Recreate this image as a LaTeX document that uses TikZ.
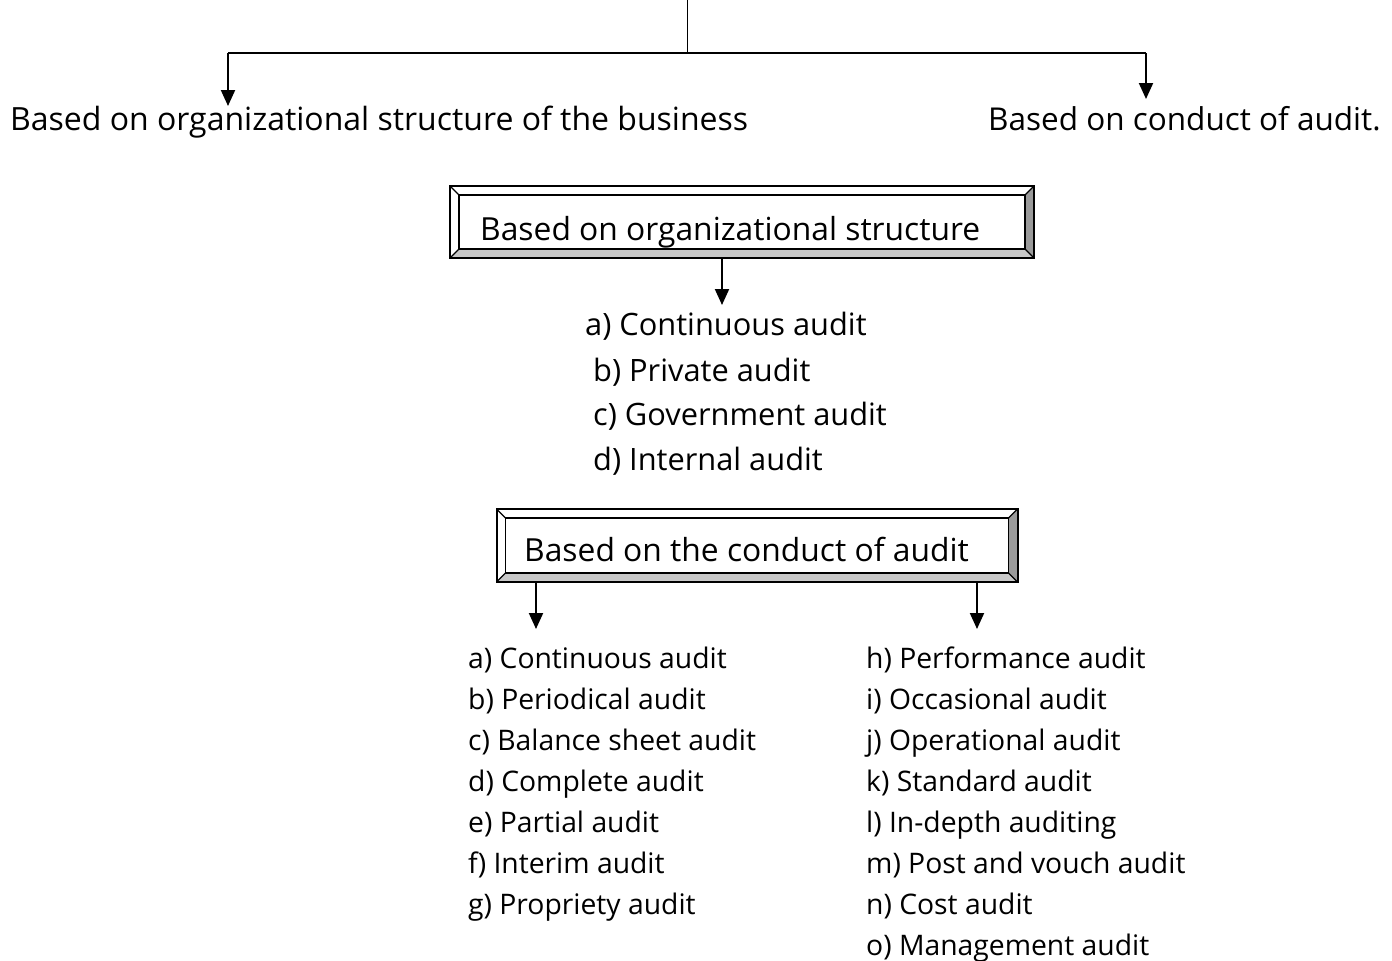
\documentclass[tikz,border=0pt]{standalone}
\usepackage{fontspec}
\setmainfont{Open Sans}
\usetikzlibrary{arrows.meta,calc}
\definecolor{bevbot}{HTML}{C8C8C8}
\definecolor{bevright}{HTML}{9A9A9A}
\tikzset{
  bigtxt/.style={inner sep=0pt,anchor=base west,font=\fontsize{32}{38}\selectfont},
  righttxt/.style={inner sep=0pt,anchor=base west,font=\fontsize{31.5}{38}\selectfont},
  boxtxt/.style={inner sep=0pt,anchor=base west,font=\fontsize{31.8}{38}\selectfont},
  itemA/.style={inner sep=0pt,anchor=base west,font=\fontsize{30.8}{36}\selectfont},
  itemB/.style={inner sep=0pt,anchor=base west,font=\fontsize{28.3}{34}\selectfont},
  conn/.style={line width=2pt,-{Triangle[length=16pt,width=14pt]}},
  bar/.style={line width=2pt},
  frame/.style={draw=none,fill=none,inner sep=0pt,outer sep=0pt}
}
% bevel drawing: #1 node name, #2 bevel size
\newcommand{\bevelframe}[2]{%
  \coordinate (#1-o1) at (#1.north west);
  \coordinate (#1-o2) at (#1.north east);
  \coordinate (#1-o3) at (#1.south east);
  \coordinate (#1-o4) at (#1.south west);
  \coordinate (#1-i1) at ($(#1.north west)+(#2,#2)$);
  \coordinate (#1-i2) at ($(#1.north east)+(-#2,#2)$);
  \coordinate (#1-i3) at ($(#1.south east)+(-#2,-#2)$);
  \coordinate (#1-i4) at ($(#1.south west)+(#2,-#2)$);
  \fill[white] (#1-o1) -- (#1-o2) -- (#1-i2) -- (#1-i1) -- cycle;
  \fill[white] (#1-o1) -- (#1-i1) -- (#1-i4) -- (#1-o4) -- cycle;
  \fill[bevbot] (#1-o4) -- (#1-i4) -- (#1-i3) -- (#1-o3) -- cycle;
  \fill[bevright] (#1-o2) -- (#1-o3) -- (#1-i3) -- (#1-i2) -- cycle;
  \draw[line width=1.3pt] (#1-i1) rectangle (#1-i3);
  \draw[line width=1.3pt] (#1-o1) -- (#1-i1) (#1-o2) -- (#1-i2) (#1-o3) -- (#1-i3) (#1-o4) -- (#1-i4);
  \draw[line width=2pt] (#1-o1) rectangle (#1-o3);
}
\begin{document}
\begin{tikzpicture}[x=1pt,y=-1pt]
\useasboundingbox (0,0) rectangle (1392,961);
% top structure
\coordinate (top) at (687,0);
\coordinate (tj) at (687,53);
\coordinate (tl) at (228,53);
\coordinate (tr) at (1146,53);
\coordinate (tle) at (228,106);
\coordinate (tre) at (1146,99);
\node[bigtxt] (orgb) at (10,130) {Based on organizational structure of the business};
\node[righttxt] (condb) at (988,130) {Based on conduct of audit.};
\draw[line width=1pt] (top) -- (tj);
\draw[bar] (tl) -- (tr);
\draw[conn] (tl) -- (tle);
\draw[conn] (tr) -- (tre);
% box 1
\node[frame,minimum width=584pt,minimum height=72pt] (box1) at (742,222) {};
\bevelframe{box1}{9}
\node[boxtxt] (box1t) at (480,240) {Based on organizational structure};
\coordinate (b1a) at (722,258);
\coordinate (b1e) at (722,305);
\draw[conn] (b1a) -- (b1e);
\node[itemA] (l1a) at (585,335) {a) Continuous audit};
\node[itemA] (l1b) at (593,381) {b) Private audit};
\node[itemA] (l1c) at (593,425) {c) Government audit};
\node[itemA] (l1d) at (593,470) {d) Internal audit};
% box 2
\node[frame,minimum width=521pt,minimum height=73pt] (box2) at (757,545.5) {};
\bevelframe{box2}{9}
\node[boxtxt] (box2t) at (524,561) {Based on the conduct of audit};
\coordinate (b2l) at (536,582);
\coordinate (b2r) at (977,582);
\coordinate (b2le) at (536,629);
\coordinate (b2re) at (977,629);
\draw[conn] (b2l) -- (b2le);
\draw[conn] (b2r) -- (b2re);
\foreach \t [count=\i from 0] in {a) Continuous audit,b) Periodical audit,c) Balance sheet audit,d) Complete audit,e) Partial audit,f) Interim audit,g) Propriety audit}
  \node[itemB] (L\i) at (468,668+41*\i) {\t};
\foreach \t [count=\i from 0] in {h) Performance audit,i) Occasional audit,j) Operational audit,k) Standard audit,l) In-depth auditing,m) Post and vouch audit,n) Cost audit,o) Management audit}
  \node[itemB] (R\i) at (866,668+41*\i) {\t};
\end{tikzpicture}
\end{document}
